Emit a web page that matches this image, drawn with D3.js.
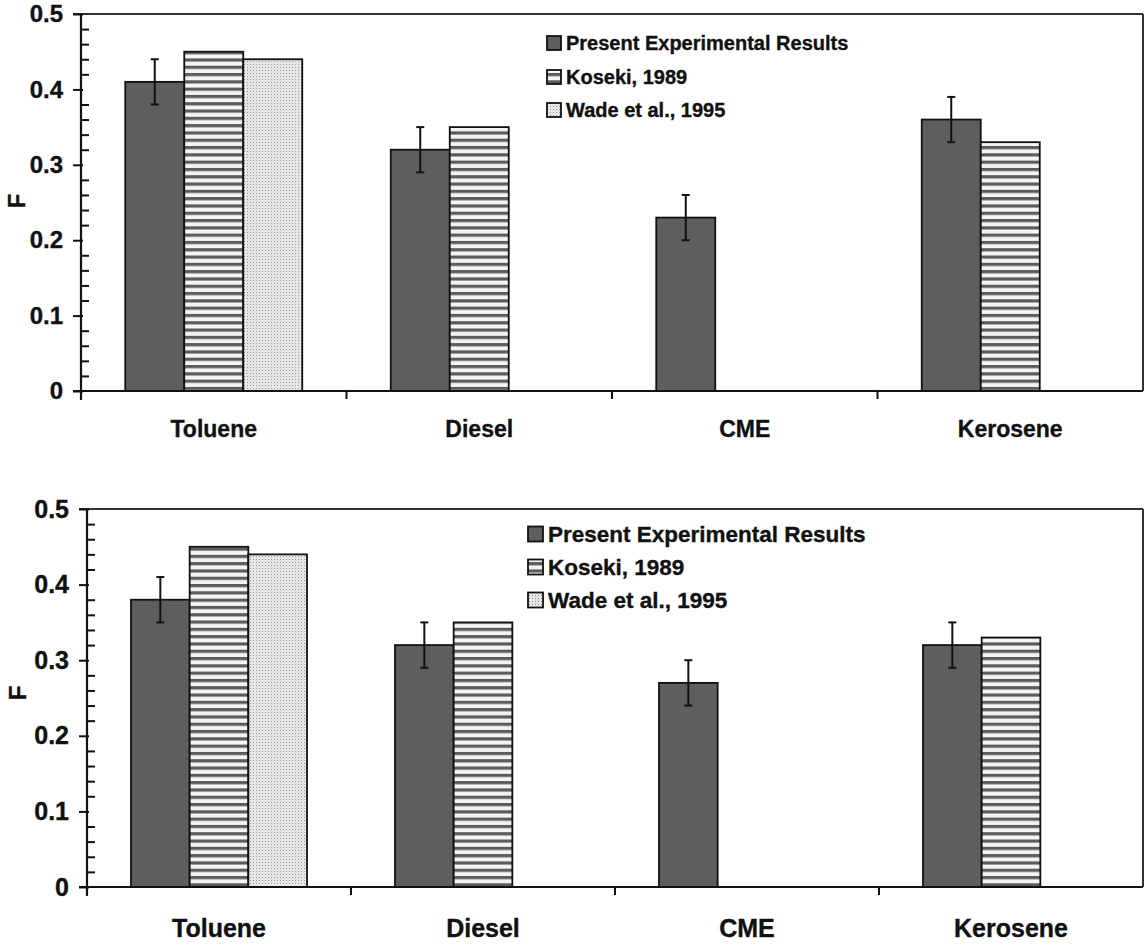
<!DOCTYPE html>
<html>
<head>
<meta charset="utf-8">
<script src="https://cdn.jsdelivr.net/npm/d3@7"></script>
<style>
  html, body { margin: 0; padding: 0; background: #fff; }
  svg { display: block; }
  text { font-family: "Liberation Sans", Arial, sans-serif; font-weight: bold; fill: #111; stroke: #111; stroke-width: 0.35px; }
</style>
</head>
<body>
<svg id="chart" width="1144" height="945"></svg>
<script>
// ---------- data ----------
const categories = ["Toluene", "Diesel", "CME", "Kerosene"];
const seriesNames = ["Present Experimental Results", "Koseki, 1989", "Wade et al., 1995"];

// Top panel
const topPresent    = [0.41, 0.32, 0.23, 0.36];
const topPresentErr = [0.03, 0.03, 0.03, 0.03];
const topKoseki     = [0.45, 0.35, null, 0.33];
const topWade       = [0.44, null, null, null];

// Bottom panel
const botPresent    = [0.38, 0.32, 0.27, 0.32];
const botPresentErr = [0.03, 0.03, 0.03, 0.03];
const botKoseki     = [0.45, 0.35, null, 0.33];
const botWade       = [0.44, null, null, null];

const yTickValues = [0, 0.1, 0.2, 0.3, 0.4, 0.5];
const yTickLabels = ["0", "0.1", "0.2", "0.3", "0.4", "0.5"];
const yMinorStep = 0.02;
const yLabel = "F";

// ---------- drawing ----------
const svg = d3.select("#chart");
const defs = svg.append("defs");

// stripes pattern
const stripes = defs.append("pattern")
  .attr("id", "stripes").attr("patternUnits", "userSpaceOnUse")
  .attr("width", 10).attr("height", 7.3);
stripes.append("rect").attr("width", 10).attr("height", 7.3).attr("fill", "#f4f4f4");
stripes.append("rect").attr("y", 0).attr("width", 10).attr("height", 3.2).attr("fill", "#5c5c5c");

// dotted pattern
const dots = defs.append("pattern")
  .attr("id", "dots").attr("patternUnits", "userSpaceOnUse")
  .attr("width", 3).attr("height", 3);
dots.append("rect").attr("width", 3).attr("height", 3).attr("fill", "#e6e6e6");
dots.append("rect").attr("x", 1).attr("y", 1).attr("width", 1).attr("height", 1).attr("fill", "#9a9a9a");

const seriesFills = ["#5e5e5e", "url(#stripes)", "url(#dots)"];

function drawPanel(p) {
  const g = svg.append("g");
  const x = d3.scaleBand().domain(categories).range([p.x0, p.x1]).padding(0);
  const xs = d3.scaleBand().domain(seriesNames).range([0, x.bandwidth()])
    .paddingInner(0).paddingOuter(0.75);
  const y = d3.scaleLinear().domain([0, 0.5]).range([p.yBase, p.yTop]);

  // plot-area border (top & right)
  g.append("line").attr("x1", p.x0 - 8).attr("x2", p.x1).attr("y1", y(0.5)).attr("y2", y(0.5))
    .attr("stroke", "#333").attr("stroke-width", 2);
  g.append("line").attr("x1", p.x1).attr("x2", p.x1).attr("y1", y(0.5)).attr("y2", y(0))
    .attr("stroke", "#333").attr("stroke-width", 2);

  // bars
  const seriesVals = [p.present, p.koseki, p.wade];
  seriesVals.forEach((vals, si) => {
    const items = categories.map((c, i) => ({ c, v: vals[i] })).filter(d => d.v != null);
    g.append("g").selectAll("rect").data(items).join("rect")
      .attr("x", d => x(d.c) + xs(seriesNames[si]))
      .attr("width", xs.bandwidth())
      .attr("y", d => y(d.v))
      .attr("height", d => y(0) - y(d.v))
      .attr("fill", seriesFills[si])
      .attr("stroke", "#111").attr("stroke-width", 1.8);
  });

  // error bars on present results
  const errItems = categories.map((c, i) => ({ c, v: p.present[i], e: p.err[i] }));
  const eg = g.append("g").attr("stroke", "#111").attr("stroke-width", 2);
  errItems.forEach(d => {
    const cx = x(d.c) + xs(seriesNames[0]) + xs.bandwidth() / 2;
    eg.append("line").attr("x1", cx).attr("x2", cx).attr("y1", y(d.v + d.e)).attr("y2", y(d.v - d.e));
    [d.v + d.e, d.v - d.e].forEach(v => {
      eg.append("line").attr("x1", cx - 4).attr("x2", cx + 4).attr("y1", y(v)).attr("y2", y(v));
    });
  });

  // y axis: major ticks (outside, left)
  const yAxis = d3.axisLeft(y).tickValues(yTickValues)
    .tickFormat((d, i) => yTickLabels[i]).tickSize(8).tickPadding(10);
  const ya = g.append("g").attr("transform", `translate(${p.x0},0)`).call(yAxis);
  ya.select(".domain").remove();
  ya.selectAll(".tick line").attr("stroke", "#111").attr("stroke-width", 2).attr("x2", -8).attr("x1", 2);
  ya.selectAll(".tick text").style("font-size", p.tickFont + "px")
    .style("font-family", '"Liberation Sans", Arial, sans-serif').style("font-weight", "bold")
    .attr("fill", "#111");

  // minor ticks (inside, right)
  const minorVals = d3.range(0, 0.5 + 1e-9, yMinorStep).filter(v => Math.abs(v * 10 - Math.round(v * 10)) > 1e-6);
  const yMinor = d3.axisRight(y).tickValues(minorVals).tickSize(8).tickFormat("");
  const ym = g.append("g").attr("transform", `translate(${p.x0},0)`).call(yMinor);
  ym.select(".domain").remove();
  ym.selectAll(".tick line").attr("stroke", "#111").attr("stroke-width", 2);

  // y axis line
  g.append("line").attr("x1", p.x0).attr("x2", p.x0).attr("y1", y(0.5)).attr("y2", y(0) + 9)
    .attr("stroke", "#111").attr("stroke-width", 2.2);

  // x axis line
  g.append("line").attr("x1", p.x0 - 8).attr("x2", p.x1).attr("y1", y(0)).attr("y2", y(0))
    .attr("stroke", "#111").attr("stroke-width", 2.2);

  // category boundary ticks
  const bounds = categories.slice(1).map(c => x(c));
  g.append("g").selectAll("line").data(bounds).join("line")
    .attr("x1", d => d).attr("x2", d => d).attr("y1", y(0)).attr("y2", y(0) + 8)
    .attr("stroke", "#111").attr("stroke-width", 2);

  // category labels
  g.append("g").selectAll("text").data(categories).join("text")
    .attr("x", d => x(d) + x.bandwidth() / 2)
    .attr("y", p.catY)
    .attr("text-anchor", "middle")
    .style("font-size", p.catFont + "px")
    .text(d => d);

  // y label
  g.append("text")
    .attr("transform", `translate(${p.fX},${p.fY}) rotate(-90)`)
    .attr("text-anchor", "middle")
    .style("font-size", p.fFont + "px")
    .text(yLabel);

  // legend
  const lg = g.append("g");
  seriesNames.forEach((s, i) => {
    const cy = p.legY[i];
    lg.append("rect").attr("x", p.legX).attr("y", cy - p.legSw / 2)
      .attr("width", p.legSw).attr("height", p.legSw)
      .attr("fill", seriesFills[i]).attr("stroke", "#111").attr("stroke-width", 1.8);
    lg.append("text").attr("x", p.legX + p.legSw + 5).attr("y", cy)
      .attr("dominant-baseline", "central")
      .style("font-size", p.legFont + "px")
      .text(s);
  });
}

drawPanel({
  x0: 81, x1: 1143, yBase: 391, yTop: 14,
  present: topPresent, err: topPresentErr, koseki: topKoseki, wade: topWade,
  tickFont: 24, catFont: 23, catY: 437, fX: 25, fY: 201, fFont: 23,
  legX: 547, legSw: 14, legFont: 20, legY: [43, 77, 110]
});

drawPanel({
  x0: 87, x1: 1143, yBase: 887, yTop: 509,
  present: botPresent, err: botPresentErr, koseki: botKoseki, wade: botWade,
  tickFont: 25, catFont: 25, catY: 937, fX: 26, fY: 693, fFont: 24,
  legX: 528, legSw: 15, legFont: 22.5, legY: [534, 567, 600]
});
</script>
</body>
</html>
